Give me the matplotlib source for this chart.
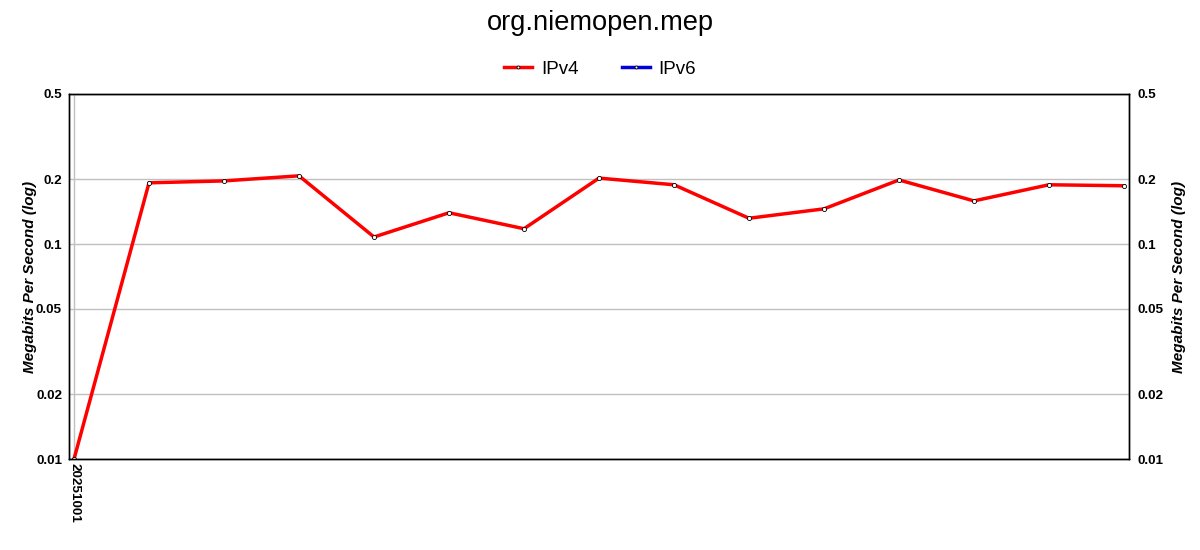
import matplotlib
matplotlib.use("Agg")
import matplotlib.pyplot as plt
from matplotlib.ticker import FixedLocator, FixedFormatter, NullLocator

plt.rcParams['font.family'] = ['Liberation Sans', 'DejaVu Sans']

title = "org.niemopen.mep"
dates = ["20251001", "", "", "", "", "", "", "", "", "", "", "", "", "", ""]
ipv4 = [0.01, 0.193, 0.197, 0.208, 0.108, 0.140, 0.118, 0.203, 0.189,
        0.132, 0.146, 0.199, 0.159, 0.189, 0.187]
ipv6 = []
yticks = [0.01, 0.02, 0.05, 0.1, 0.2, 0.5]
ytick_labels = ["0.01", "0.02", "0.05", "0.1", "0.2", "0.5"]
ylabel = "Megabits Per Second (log)"

TICK_FS = 9.7

fig = plt.figure(figsize=(12, 5.5), dpi=100)
ax = fig.add_axes([69/1200, 1-459/550, (1129-69)/1200, (459-94)/550])

x = list(range(len(ipv4)))
ax.plot(x, ipv4, color='#ff0000', lw=2.5, marker='o', ms=3,
        mfc='white', mec='black', mew=0.6, label='IPv4', zorder=3)
ax.plot(list(range(len(ipv6))), ipv6, color='#0000dd', lw=2.5, marker='o', ms=3,
        mfc='white', mec='black', mew=0.6, label='IPv6')

ax.set_yscale('log')
ax.set_ylim(0.01, 0.5)
ax.set_xlim(-0.067, len(ipv4) - 1 + 0.067)
ax.yaxis.set_major_locator(FixedLocator(yticks))
ax.yaxis.set_major_formatter(FixedFormatter(ytick_labels))
ax.yaxis.set_minor_locator(NullLocator())
ax.grid(axis='y', color='#c0c0c0', lw=1)
ax.axvline(0, color='#c0c0c0', lw=1, zorder=0)

labeled = [i for i, d in enumerate(dates) if d]
ax.set_xticks(labeled)
ax.set_xticklabels([dates[i] for i in labeled], rotation=-90, fontsize=TICK_FS,
                   fontweight='bold', va='top', ha='center')
ax.tick_params(axis='x', length=0, pad=3)
ax.tick_params(axis='y', length=0, pad=5, labelsize=TICK_FS)
for lab in ax.get_yticklabels():
    lab.set_fontweight('bold')

ax.set_ylabel(ylabel, fontsize=11, fontstyle='italic', fontweight='bold', labelpad=-1)

ax2 = ax.twinx()
ax2.set_yscale('log')
ax2.set_ylim(0.01, 0.5)
ax2.yaxis.set_major_locator(FixedLocator(yticks))
ax2.yaxis.set_major_formatter(FixedFormatter(ytick_labels))
ax2.yaxis.set_minor_locator(NullLocator())
ax2.tick_params(axis='y', length=0, pad=6, labelsize=TICK_FS)
for lab in ax2.get_yticklabels():
    lab.set_fontweight('bold')
ax2.set_ylabel(ylabel, fontsize=11, fontstyle='italic', fontweight='bold', labelpad=6)

for a in (ax, ax2):
    for s in a.spines.values():
        s.set_color('black')
        s.set_linewidth(1)

fig.text(0.5, 1-23/550, title, ha='center', va='center', fontsize=19.6)
fig.legend(loc='center', bbox_to_anchor=(0.5, 1-69/550), ncol=2, frameon=False,
           fontsize=13.5, handlelength=1.5, handletextpad=0.45, columnspacing=2.3,
           markerscale=0.7)

fig.savefig('out.png', dpi=100)
